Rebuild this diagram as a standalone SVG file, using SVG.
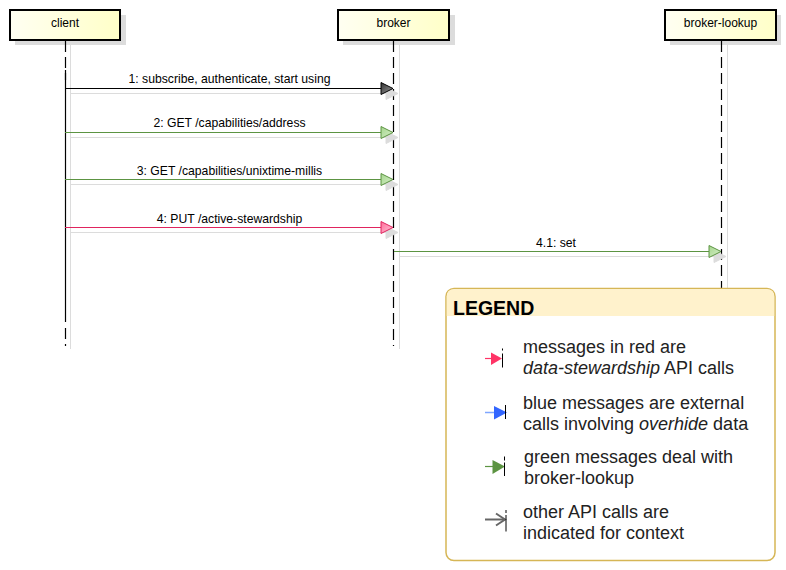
<svg xmlns="http://www.w3.org/2000/svg" width="786" height="570" viewBox="0 0 786 570">
<defs>
<linearGradient id="boxfill" x1="0" y1="0" x2="1" y2="0">
<stop offset="0" stop-color="#fffff2"/>
<stop offset="1" stop-color="#ffffc8"/>
</linearGradient>
<linearGradient id="gblack" x1="0" y1="0" x2="1" y2="1">
<stop offset="0" stop-color="#333"/>
<stop offset="1" stop-color="#999"/>
</linearGradient>
<linearGradient id="ggreen" x1="0" y1="0" x2="1" y2="1">
<stop offset="0" stop-color="#a6d68e"/>
<stop offset="1" stop-color="#d5efc8"/>
</linearGradient>
<linearGradient id="gred" x1="0" y1="0" x2="1" y2="1">
<stop offset="0" stop-color="#ff6e9a"/>
<stop offset="1" stop-color="#ffc2d6"/>
</linearGradient>
<marker id="ah-black" markerUnits="userSpaceOnUse" markerWidth="14" markerHeight="14" refX="12" refY="6" orient="auto" overflow="visible">
<path d="M0,0 L12,6 L0,12 Z" fill="url(#gblack)" stroke="#000" stroke-width="1"/>
</marker>
<marker id="ah-green" markerUnits="userSpaceOnUse" markerWidth="14" markerHeight="14" refX="12" refY="6" orient="auto" overflow="visible">
<path d="M0,0 L12,6 L0,12 Z" fill="url(#ggreen)" stroke="#5c9442" stroke-width="1"/>
</marker>
<marker id="ah-red" markerUnits="userSpaceOnUse" markerWidth="14" markerHeight="14" refX="12" refY="6" orient="auto" overflow="visible">
<path d="M0,0 L12,6 L0,12 Z" fill="url(#gred)" stroke="#e0245e" stroke-width="1"/>
</marker>
<marker id="ah-shadow" markerUnits="userSpaceOnUse" markerWidth="14" markerHeight="14" refX="12" refY="6" orient="auto" overflow="visible">
<path d="M0,0 L12,6 L0,12 Z" fill="#dcdcdc" stroke="#dcdcdc" stroke-width="1"/>
</marker>
</defs>
<style>
.pbox{fill:url(#boxfill);stroke:#000;stroke-width:2}
.pshadow{fill:#dcdcdc}
.ptext{font-family:"Liberation Sans",Arial,sans-serif;font-size:12px;fill:#000;text-anchor:middle}
.life{stroke:#000;stroke-width:1.2;stroke-dasharray:11 5;fill:none}
.lifesolid{stroke:#000;stroke-width:1.2;fill:none}
.lshadow{stroke:#dcdcdc;stroke-width:1;fill:none}
.msg{stroke-width:1.2;fill:none}
.mshadow{stroke:#dcdcdc;stroke-width:1.2;fill:none}
.mlabel{font-family:"Liberation Sans",Arial,sans-serif;font-size:12.2px;fill:#000;text-anchor:middle}
.ltext{font-family:"Liberation Sans",Arial,sans-serif;font-size:18px;fill:#222}
</style>
<rect width="786" height="570" fill="#fff"/>

<g id="client">
<rect class="pshadow" x="15" y="15" width="111" height="30"/>
<line class="lshadow" x1="70.5" y1="45" x2="70.5" y2="349"/>
<rect class="pbox" x="10" y="10" width="110" height="30"/>
<text class="ptext" x="65" y="27">client</text>
<line class="life" x1="65.5" y1="41" x2="65.5" y2="80"/>
<line class="lifesolid" x1="65.5" y1="70" x2="65.5" y2="322"/>
<line class="life" x1="65.5" y1="328" x2="65.5" y2="346"/>
</g>

<g id="broker">
<rect class="pshadow" x="343" y="15" width="112" height="30"/>
<line class="lshadow" x1="399.5" y1="45" x2="399.5" y2="349"/>
<rect class="pbox" x="338" y="10" width="111" height="30"/>
<text class="ptext" x="393.5" y="27">broker</text>
<line class="life" x1="393.5" y1="41" x2="393.5" y2="346"/>
</g>

<g id="broker-lookup">
<rect class="pshadow" x="670" y="15" width="111" height="30"/>
<line class="lshadow" x1="727.5" y1="45" x2="727.5" y2="288"/>
<rect class="pbox" x="665" y="10" width="111" height="30"/>
<text class="ptext" x="720.5" y="27">broker-lookup</text>
<line class="life" x1="721.5" y1="41" x2="721.5" y2="288"/>
</g>

<g id="connectors">
<line class="mshadow" x1="70" y1="93.5" x2="398" y2="93.5" marker-end="url(#ah-shadow)"/>
<line class="msg" stroke="#000" x1="65" y1="88.5" x2="393" y2="88.5" marker-end="url(#ah-black)"/>
<text class="mlabel" x="229.5" y="83">1: subscribe, authenticate, start using</text>

<line class="mshadow" x1="70" y1="137.5" x2="398" y2="137.5" marker-end="url(#ah-shadow)"/>
<line class="msg" stroke="#5c9442" x1="65" y1="132.5" x2="393" y2="132.5" marker-end="url(#ah-green)"/>
<text class="mlabel" x="229.5" y="127">2: GET /capabilities/address</text>

<line class="mshadow" x1="70" y1="184.5" x2="398" y2="184.5" marker-end="url(#ah-shadow)"/>
<line class="msg" stroke="#5c9442" x1="65" y1="179.5" x2="393" y2="179.5" marker-end="url(#ah-green)"/>
<text class="mlabel" x="229.5" y="174.5">3: GET /capabilities/unixtime-millis</text>

<line class="mshadow" x1="70" y1="232.5" x2="398" y2="232.5" marker-end="url(#ah-shadow)"/>
<line class="msg" stroke="#e0245e" x1="65" y1="227.5" x2="393" y2="227.5" marker-end="url(#ah-red)"/>
<text class="mlabel" x="229.5" y="222.5">4: PUT /active-stewardship</text>

<line class="mshadow" x1="399" y1="256.5" x2="726" y2="256.5" marker-end="url(#ah-shadow)"/>
<line class="msg" stroke="#5c9442" x1="394" y1="251.5" x2="721" y2="251.5" marker-end="url(#ah-green)"/>
<text class="mlabel" x="556" y="246.5">4.1: set</text>
</g>

<g id="legend">
<rect x="446" y="288.5" width="329" height="272" rx="8" ry="8" fill="#fff" stroke="#d6b656" stroke-width="1.5"/>
<path d="M446.75,316 L446.75,296.5 Q446.75,289.25 454,289.25 L767,289.25 Q774.25,289.25 774.25,296.5 L774.25,316 Z" fill="#fff2cc"/>
<text x="453" y="314.5" font-family="'Liberation Sans',Arial,sans-serif" font-size="19.5px" font-weight="bold" fill="#000">LEGEND</text>

<line x1="485" y1="358.5" x2="492" y2="358.5" stroke="#ff3366" stroke-width="1.2"/>
<path d="M491,352.5 L502,358.5 L491,365 Z" fill="#ff3366"/>
<line x1="502.5" y1="348.5" x2="502.5" y2="367.5" stroke="#000" stroke-width="1" stroke-dasharray="2 3 14"/>
<text class="ltext" x="523" y="353">messages in red are</text>
<text class="ltext" x="523" y="374"><tspan font-style="italic">data-stewardship</tspan> API calls</text>

<line x1="485" y1="412.5" x2="495" y2="412.5" stroke="#7fa6ff" stroke-width="1.5"/>
<path d="M494,406 L507,412.5 L494,419.5 Z" fill="#3366ff"/>
<line x1="505.5" y1="405" x2="505.5" y2="419" stroke="#000" stroke-width="1"/>
<text class="ltext" x="523" y="409">blue messages are external</text>
<text class="ltext" x="523" y="429.5">calls involving <tspan font-style="italic">overhide</tspan> data</text>

<line x1="485" y1="466.5" x2="494" y2="466.5" stroke="#5c9442" stroke-width="1.2"/>
<path d="M492.5,460 L505,466.5 L492.5,474 Z" fill="#5c9442"/>
<line x1="504.5" y1="456.5" x2="504.5" y2="476" stroke="#000" stroke-width="1" stroke-dasharray="4 2 14"/>
<text class="ltext" x="524" y="463">green messages deal with</text>
<text class="ltext" x="524" y="483.5">broker-lookup</text>

<line x1="485" y1="519.5" x2="505" y2="519.5" stroke="#666" stroke-width="2"/>
<path d="M496,513.5 L505,519.5 L496,525.5" fill="none" stroke="#666" stroke-width="2"/>
<line x1="506" y1="510" x2="506" y2="531.5" stroke="#000" stroke-width="1" stroke-dasharray="3 2 20"/>
<text class="ltext" x="523" y="518">other API calls are</text>
<text class="ltext" x="523" y="538.5">indicated for context</text>
</g>
</svg>
